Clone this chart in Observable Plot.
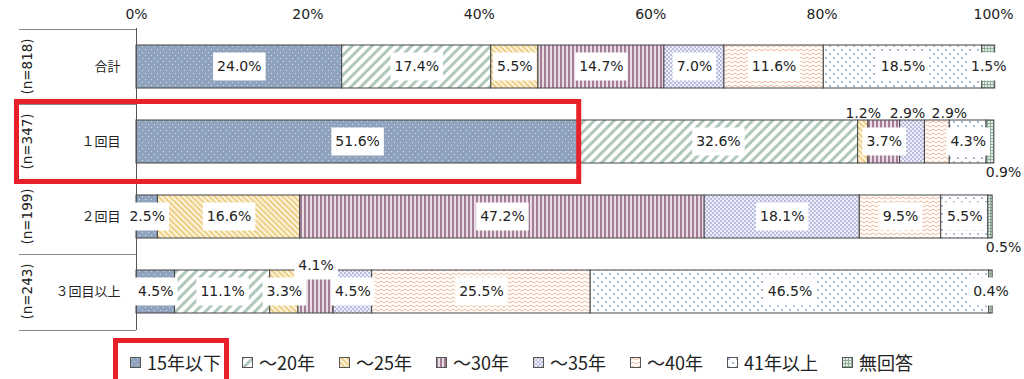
<!DOCTYPE html>
<html><head><meta charset="utf-8">
<script src="https://cdn.jsdelivr.net/npm/d3@7"></script>
<script src="https://cdn.jsdelivr.net/npm/@observablehq/plot@0.6"></script>
<style>
body{margin:0;background:#fff;width:1024px;height:379px;overflow:hidden;position:relative;font-family:"DejaVu Sans","Noto Sans CJK JP",sans-serif;}
#legend{position:absolute;left:113px;top:338px;display:flex;align-items:flex-start;font-family:"Noto Sans CJK JP",sans-serif;font-size:18px;line-height:22px;color:#222;}
.item{display:flex;align-items:center;padding-top:13px;margin-right:24px;white-space:nowrap}
.item.hl{border:5px solid #E8202A;padding:8px 3px 40px 12px;margin-right:13px}
.item svg{margin-right:6px;flex:none}
</style></head>
<body>
<svg width="0" height="0" style="position:absolute"><defs>
<pattern id="p0" width="6" height="6" patternUnits="userSpaceOnUse">
 <rect width="6" height="6" fill="#8FA2BE"/>
 <rect x="1" y="1" width="1" height="1" fill="#D6DFEB"/>
 <rect x="4" y="4" width="1" height="1" fill="#D6DFEB"/>
</pattern>
<pattern id="p1" width="7" height="7" patternUnits="userSpaceOnUse" patternTransform="rotate(45)">
 <rect width="7" height="7" fill="#fff"/>
 <rect width="3" height="7" fill="#B0C8BA"/>
</pattern>
<pattern id="p2" width="4" height="4" patternUnits="userSpaceOnUse" patternTransform="rotate(-45)">
 <rect width="4" height="4" fill="#FBF3DC"/>
 <rect width="1.8" height="4" fill="#EDCB7E"/>
</pattern>
<pattern id="p3" width="4" height="4" patternUnits="userSpaceOnUse">
 <rect width="4" height="4" fill="#E9DCE5"/>
 <rect width="2" height="4" fill="#A47E96"/>
</pattern>
<pattern id="p4" width="4" height="4" patternUnits="userSpaceOnUse">
 <rect width="4" height="4" fill="#EEEEF8"/>
 <rect width="2" height="2" fill="#BABDE1"/>
 <rect x="2" y="2" width="2" height="2" fill="#BABDE1"/>
</pattern>
<pattern id="p5" width="6" height="4" patternUnits="userSpaceOnUse">
 <rect width="6" height="4" fill="#fff"/>
 <path d="M0,3 L3,1 L6,3" fill="none" stroke="#F0B796" stroke-width="1"/>
</pattern>
<pattern id="p6" width="8" height="8" patternUnits="userSpaceOnUse">
 <rect width="8" height="8" fill="#fff"/>
 <rect x="1" y="1" width="2" height="2" fill="#A9BDDB"/>
 <rect x="5" y="5" width="2" height="2" fill="#A9BDDB"/>
</pattern>
<pattern id="p7" width="3" height="3" patternUnits="userSpaceOnUse">
 <rect width="3" height="3" fill="#E4EEE7"/>
 <rect width="3" height="1" fill="#8FAE9C"/>
 <rect width="1" height="3" fill="#8FAE9C"/>
</pattern>
</defs></svg>
<div id="chart"></div>
<div id="legend"></div>
<script>
const rows = ["合計", "１回目", "２回目", "３回目以上"];
const nLabels = ["(n=818)", "(n=347)", "(n=199)", "(n=243)"];
const categories = ["15年以下", "～20年", "～25年", "～30年", "～35年", "～40年", "41年以上", "無回答"];
const valsTotal = [24.0, 17.4, 5.5, 14.7, 7.0, 11.6, 18.5, 1.5];
const vals1 = [51.6, 32.6, 1.2, 3.7, 2.9, 2.9, 4.3, 0.9];
const vals2 = [2.5, 0, 16.6, 47.2, 18.1, 9.5, 5.5, 0.5];
const vals3 = [4.5, 11.1, 3.3, 4.1, 4.5, 25.5, 46.5, 0.4];
const xTicks = [0, 20, 40, 60, 80, 100];
// label placement keys
const placeTotal = ["in", "in", "in", "in", "in", "in", "in", "in"];
const place1 = ["in", "in", "up", "in", "upleft", "upright", "in", "down"];
const place2 = ["in", "in", "in", "in", "in", "in", "in", "down"];
const place3 = ["in", "in", "in", "upbox", "in", "in", "in", "in"];

const allVals = [valsTotal, vals1, vals2, vals3];
const allPlaces = [placeTotal, place1, place2, place3];
const data = [];
allVals.forEach((vals, ri) => {
  let acc = 0;
  vals.forEach((v, ci) => {
    data.push({row: rows[ri], cat: ci, value: v, x1: acc, x2: acc + v, mid: acc + v / 2, place: allPlaces[ri][ci]});
    acc += v;
  });
});

const placements = {
  in: {dx: 0, dy: 0, box: true},
  up: {dx: 0, dy: -28, box: false},
  upleft: {dx: -5, dy: -28, box: false},
  upright: {dx: 12, dy: -28, box: false},
  upbox: {dx: 0, dy: -26, box: true},
  down: {dx: 13, dy: 31, box: false}
};

const textMarks = Object.entries(placements).map(([key, p]) =>
  Plot.text(data, {
    filter: d => d.place === key && d.value > 0,
    x: "mid", y: "row",
    text: d => d.value.toFixed(1) + "%",
    dx: p.dx, dy: p.dy,
    fontSize: 14, fill: "#222",
    className: p.box ? "boxed" : "plain"
  })
);

const W = 1024, H = 335, mT = 28, mB = 5, mL = 136, mR = 31;
const plot = Plot.plot({
  width: W, height: H,
  marginTop: mT, marginBottom: mB, marginLeft: mL, marginRight: mR,
  style: {fontFamily: '"DejaVu Sans","Noto Sans CJK JP",sans-serif', fontSize: "14px", color: "#222", background: "white", overflow: "visible"},
  x: {domain: [0, 100]},
  y: {domain: rows, paddingInner: 0.43, paddingOuter: 0.215},
  color: {type: "identity"},
  marks: [
    Plot.barX(data.filter(d => d.value > 0), {x1: "x1", x2: "x2", y: "row", fill: d => `url(#p${d.cat})`, stroke: "#454545", strokeWidth: 1}),
    Plot.ruleX([0], {stroke: "#555", strokeWidth: 1}),
    ...textMarks,
    Plot.axisX({anchor: "top", ticks: xTicks, tickSize: 0, tickPadding: 10, tickFormat: d => d + "%", fontSize: 14, label: null, fill: "#222"}),
    Plot.axisY({tickSize: 0, tickPadding: 16, fontSize: 13, fontFamily: "Noto Sans CJK JP", label: null, fill: "#222"})
  ]
});
document.getElementById("chart").appendChild(plot);

const ns = "http://www.w3.org/2000/svg";
const svg = d3.select(plot);
// white boxes behind boxed labels
plot.querySelectorAll("g.boxed text").forEach(t => {
  const b = t.getBBox();
  const r = document.createElementNS(ns, "rect");
  const cy = b.y + b.height / 2;
  r.setAttribute("x", b.x - 4);
  r.setAttribute("y", cy - 14);
  r.setAttribute("width", b.width + 8);
  r.setAttribute("height", 28);
  r.setAttribute("fill", "white");
  if (t.getAttribute("transform")) r.setAttribute("transform", t.getAttribute("transform"));
  t.parentNode.insertBefore(r, t);
});

const xS = plot.scale("x"), yS = plot.scale("y");
const bw = yS.bandwidth;
const step = yS.apply(rows[1]) - yS.apply(rows[0]);
const x0 = xS.apply(0);
const bounds = rows.map(r => yS.apply(r) - (step - bw) / 2);
bounds.push(H - mB);
const g = svg.append("g");
bounds.forEach(yv => {
  g.append("line").attr("x1", 19).attr("x2", x0).attr("y1", Math.round(yv) + 0.5).attr("y2", Math.round(yv) + 0.5)
    .attr("stroke", "#8a8a8a").attr("stroke-width", 1);
});
// rotated sample-size labels in the left column
rows.forEach((r, i) => {
  const cy = yS.apply(r) + bw / 2;
  g.append("text")
    .attr("transform", `translate(27,${cy}) rotate(-90)`)
    .attr("text-anchor", "middle").attr("dy", "0.35em")
    .attr("font-size", 13.5).attr("fill", "#222")
    .text(nLabels[i]);
});
// red highlight box around first-time row
const yr = yS.apply(rows[1]);
svg.append("rect")
  .attr("x", 16.5).attr("y", Math.round(yr - 19) + 0.5)
  .attr("width", xS.apply(vals1[0]) - 16).attr("height", Math.round(bw + 37))
  .attr("fill", "none").attr("stroke", "#E8202A").attr("stroke-width", 5);

// legend
const legend = d3.select("#legend");
categories.forEach((c, i) => {
  const it = legend.append("div").attr("class", "item" + (i === 0 ? " hl" : ""));
  const s = it.append("svg").attr("width", 11).attr("height", 11);
  s.append("rect").attr("x", 0.5).attr("y", 0.5).attr("width", 10).attr("height", 10)
    .attr("fill", `url(#p${i})`).attr("stroke", "#555");
  it.append("span").text(c);
});
</script>
</body></html>
